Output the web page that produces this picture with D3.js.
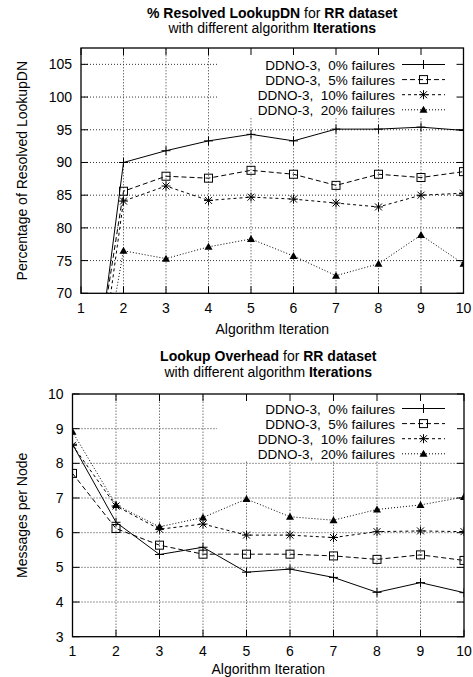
<!DOCTYPE html>
<html>
<head>
<meta charset="utf-8">
<script src="https://cdn.jsdelivr.net/npm/d3@7"></script>
<style>
  body { margin: 0; background: #fff; }
  svg text { font-family: "Liberation Sans", Arial, Helvetica, sans-serif; fill: #000; white-space: pre; }
</style>
</head>
<body>
<div id="chart"></div>
<script>
// iterations on the x axis
const iterations = [1, 2, 3, 4, 5, 6, 7, 8, 9, 10];
const seriesNames = ['DDNO-3,  0% failures', 'DDNO-3,  5% failures', 'DDNO-3,  10% failures', 'DDNO-3,  20% failures'];

// % resolved LookupDN (first value sits below the visible range)
const resolved0  = [40, 90.0, 91.8, 93.3, 94.3, 93.3, 95.1, 95.1, 95.4, 94.9];
const resolved5  = [44, 85.6, 87.9, 87.6, 88.8, 88.2, 86.5, 88.2, 87.7, 88.6];
const resolved10 = [37, 84.1, 86.4, 84.2, 84.7, 84.4, 83.8, 83.2, 85.0, 85.3];
const resolved20 = [40, 76.5, 75.3, 77.1, 78.3, 75.7, 72.7, 74.5, 78.9, 74.5];

// lookup overhead, messages per node
const overhead0  = [8.55, 6.30, 5.37, 5.58, 4.86, 4.95, 4.71, 4.28, 4.56, 4.27];
const overhead5  = [7.71, 6.12, 5.64, 5.38, 5.38, 5.38, 5.33, 5.23, 5.36, 5.20];
const overhead10 = [8.52, 6.77, 6.10, 6.25, 5.93, 5.93, 5.86, 6.03, 6.05, 6.03];
const overhead20 = [8.91, 6.80, 6.17, 6.44, 6.97, 6.46, 6.36, 6.67, 6.80, 7.03];

const ticks1 = [70, 75, 80, 85, 90, 95, 100, 105];
const ticks2 = [3, 4, 5, 6, 7, 8, 9, 10];

const styles = [
  { dash: null,  marker: 'plus' },
  { dash: '5,3', marker: 'square' },
  { dash: '3,3', marker: 'star' },
  { dash: '1,2', marker: 'triangle' }
];

const W = 473, H = 677;
const svg = d3.select('#chart').append('svg').attr('width', W).attr('height', H);

function drawMarker(g, type, x, y) {
  if (type === 'plus') {
    g.append('path').attr('d', `M${x-4.5},${y}H${x+4.5}M${x},${y-4.5}V${y+4.5}`)
      .attr('stroke', '#000').attr('stroke-width', 1);
  } else if (type === 'square') {
    g.append('rect').attr('x', x-4).attr('y', y-4).attr('width', 8).attr('height', 8)
      .attr('fill', 'none').attr('stroke', '#000').attr('stroke-width', 1);
  } else if (type === 'star') {
    g.append('path').attr('d', `M${x-4.5},${y}H${x+4.5}M${x},${y-4.5}V${y+4.5}M${x-3.5},${y-3.5}L${x+3.5},${y+3.5}M${x-3.5},${y+3.5}L${x+3.5},${y-3.5}`)
      .attr('stroke', '#000').attr('stroke-width', 1);
  } else {
    g.append('path').attr('d', `M${x},${y-4}L${x+4},${y+3}L${x-4},${y+3}Z`).attr('fill', '#000');
  }
}

function drawPanel(cfg) {
  const { id, left, right, top, bottom, yDomain, yTicks, series, title1, title2, ylabel, tickY, xlabY } = cfg;
  const x = d3.scaleLinear().domain([1, 10]).range([left, right]);
  const y = d3.scaleLinear().domain(yDomain).range([bottom, top]);
  const g = svg.append('g');

  g.append('clipPath').attr('id', 'clip-' + id)
    .append('rect').attr('x', left).attr('y', top).attr('width', right - left).attr('height', bottom - top);

  // grid
  const grid = g.append('g').attr('stroke', '#333').attr('stroke-width', 1).attr('stroke-dasharray', '1,2');
  iterations.slice(1, -1).forEach(v => {
    grid.append('line').attr('x1', x(v)).attr('x2', x(v)).attr('y1', bottom).attr('y2', top);
  });
  yTicks.slice(1).forEach(v => {
    if (y(v) <= top + 0.5) return;
    grid.append('line').attr('x1', left).attr('x2', right).attr('y1', y(v)).attr('y2', y(v));
  });

  // data
  const plot = g.append('g').attr('clip-path', `url(#clip-${id})`);
  series.forEach((vals, i) => {
    const pts = iterations.map((it, k) => [it, vals[k]]);
    plot.append('path')
      .attr('d', d3.line().x(d => x(d[0])).y(d => y(d[1]))(pts))
      .attr('fill', 'none').attr('stroke', '#000').attr('stroke-width', 1)
      .attr('stroke-dasharray', styles[i].dash);
    pts.forEach(p => {
      if (p[1] < yDomain[0] || p[1] > yDomain[1]) return;
      drawMarker(plot, styles[i].marker, x(p[0]), y(p[1]));
    });
  });

  // legend (opaque)
  const rowH = 15.1;
  const legTop = top + cfg.legOff;
  const leg = g.append('g');
  leg.append('rect').attr('x', 217).attr('y', top).attr('width', right - 217)
    .attr('height', legTop + rowH * 3 + 7 - top).attr('fill', '#fff');
  seriesNames.forEach((name, i) => {
    const ly = legTop + i * rowH;
    leg.append('text').attr('x', 395).attr('y', ly + 5).attr('text-anchor', 'end')
      .attr('font-size', 13.5).text(name);
    leg.append('line').attr('x1', 402).attr('x2', 445).attr('y1', ly).attr('y2', ly)
      .attr('stroke', '#000').attr('stroke-width', 1).attr('stroke-dasharray', styles[i].dash);
    drawMarker(leg, styles[i].marker, 423.5, ly);
  });

  // border and ticks
  g.append('rect').attr('x', left).attr('y', top).attr('width', right - left).attr('height', bottom - top)
    .attr('fill', 'none').attr('stroke', '#000').attr('stroke-width', 1.3);
  const tk = g.append('g').attr('stroke', '#000').attr('stroke-width', 1);
  const tl = 7;
  iterations.forEach(v => {
    tk.append('line').attr('x1', x(v)).attr('x2', x(v)).attr('y1', bottom).attr('y2', bottom - tl);
    tk.append('line').attr('x1', x(v)).attr('x2', x(v)).attr('y1', top).attr('y2', top + tl);
    g.append('text').attr('x', x(v)).attr('y', tickY).attr('text-anchor', 'middle')
      .attr('font-size', 14).text(v);
  });
  yTicks.forEach(v => {
    tk.append('line').attr('x1', left).attr('x2', left + tl).attr('y1', y(v)).attr('y2', y(v));
    tk.append('line').attr('x1', right).attr('x2', right - tl).attr('y1', y(v)).attr('y2', y(v));
    g.append('text').attr('x', left - 9).attr('y', y(v) + 5).attr('text-anchor', 'end')
      .attr('font-size', 14).text(v);
  });

  // titles and labels
  const cx = (left + right) / 2;
  const t1 = g.append('text').attr('x', cx).attr('y', cfg.titleY).attr('text-anchor', 'middle').attr('font-size', 14);
  title1.forEach(p => t1.append('tspan').attr('font-weight', p[1] ? 'bold' : 'normal').text(p[0]));
  const t2 = g.append('text').attr('x', cx).attr('y', cfg.titleY + 15.7).attr('text-anchor', 'middle').attr('font-size', 14);
  title2.forEach(p => t2.append('tspan').attr('font-weight', p[1] ? 'bold' : 'normal').text(p[0]));

  g.append('text').attr('x', cx).attr('y', xlabY).attr('text-anchor', 'middle')
    .attr('font-size', 14).text('Algorithm Iteration');
  g.append('text').attr('transform', `translate(27,${(top + bottom) / 2}) rotate(-90)`)
    .attr('text-anchor', 'middle').attr('font-size', 14).text(ylabel);
}

drawPanel({
  id: 'p1', left: 81, right: 463.5, top: 48, bottom: 293.3,
  yDomain: [70, 107.5], yTicks: ticks1, legOff: 16.5,
  series: [resolved0, resolved5, resolved10, resolved20],
  title1: [['% Resolved LookupDN', true], [' for ', false], ['RR dataset', true]],
  title2: [['with different algorithm ', false], ['Iterations', true]],
  titleY: 17.5, ylabel: 'Percentage of Resolved LookupDN', tickY: 313, xlabY: 334
});

drawPanel({
  id: 'p2', left: 72.5, right: 464, top: 394, bottom: 636.7,
  yDomain: [3, 10], yTicks: ticks2, legOff: 14.5,
  series: [overhead0, overhead5, overhead10, overhead20],
  title1: [['Lookup Overhead', true], [' for ', false], ['RR dataset', true]],
  title2: [['with different algorithm ', false], ['Iterations', true]],
  titleY: 361, ylabel: 'Messages per Node', tickY: 656, xlabY: 674
});
</script>
</body>
</html>
